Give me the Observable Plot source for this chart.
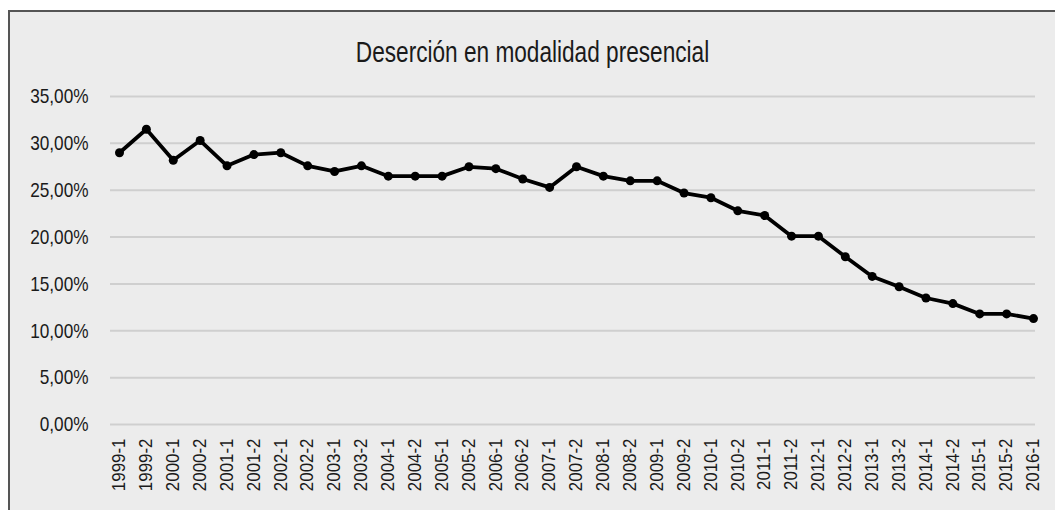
<!DOCTYPE html>
<html>
<head>
<meta charset="utf-8">
<script src="https://cdn.jsdelivr.net/npm/d3@7"></script>
<script src="https://cdn.jsdelivr.net/npm/@observablehq/plot@0.6"></script>
<style>
  html, body { margin: 0; padding: 0; background: #ffffff; overflow: hidden; width: 1055px; height: 510px; }
  #frame {
    position: absolute; left: 8px; top: 10px;
    width: 1100px; height: 560px;
    border-left: 2px solid #555; border-top: 2px solid #555;
    background: #ececec;
  }
  #title {
    width: 1045px; height: 63px; box-sizing: border-box;
    padding-top: 26px; text-align: center;
    font-family: 'Liberation Sans', Arial, sans-serif;
    font-size: 29px; line-height: 29px; color: #1a1a1a;
  }
  #title span { display: inline-block; transform: scaleX(0.78); transform-origin: center; white-space: nowrap; }
</style>
</head>
<body>
<div id="frame">
  <div id="title"><span>Deserción en modalidad presencial</span></div>
  <div id="chart"></div>
</div>
<script>
const periods = ["1999-1","1999-2","2000-1","2000-2","2001-1","2001-2","2002-1","2002-2","2003-1","2003-2","2004-1","2004-2","2005-1","2005-2","2006-1","2006-2","2007-1","2007-2","2008-1","2008-2","2009-1","2009-2","2010-1","2010-2","2011-1","2011-2","2012-1","2012-2","2013-1","2013-2","2014-1","2014-2","2015-1","2015-2","2016-1"];
const rates = [29.0,31.5,28.2,30.3,27.6,28.8,29.0,27.6,27.0,27.6,26.5,26.5,26.5,27.5,27.3,26.2,25.3,27.5,26.5,26.0,26.0,24.7,24.2,22.8,22.3,20.1,20.1,17.9,15.8,14.7,13.5,12.9,11.8,11.8,11.3];
const yTicks = [0,5,10,15,20,25,30,35];

const data = periods.map((p, i) => ({period: p, rate: rates[i]}));
const fmt = d => d.toFixed(2).replace(".", ",") + "%";

const chart = Plot.plot({
  width: 1045,
  height: 435,
  marginTop: 21,
  marginBottom: 86,
  marginLeft: 100,
  marginRight: 20,
  style: {
    fontFamily: "'Liberation Sans', Arial, sans-serif",
    fontSize: "18px",
    color: "#1a1a1a",
    background: "transparent",
    overflow: "visible"
  },
  x: {type: "point", domain: periods, padding: 0, insetLeft: 9, insetRight: 2},
  y: {domain: [0, 35]},
  marks: [
    Plot.gridY(yTicks, {stroke: "#cfcfcf", strokeOpacity: 1, strokeWidth: 2}),
    Plot.axisY(yTicks, {tickSize: 0, tickPadding: 22, tickFormat: fmt, fontSize: 21, label: null}),
    Plot.axisX({tickSize: 0, tickPadding: 14, tickRotate: -90, fontSize: 18, label: null}),
    Plot.line(data, {x: "period", y: "rate", stroke: "#000", strokeWidth: 3.8, strokeLinejoin: "round"}),
    Plot.dot(data, {x: "period", y: "rate", r: 4.5, fill: "#000", stroke: "none"})
  ]
});

// condense the axis labels to mimic the narrow typeface of the original
function condense(selector, s) {
  chart.querySelectorAll(selector).forEach(t => {
    const tr = t.getAttribute("transform");
    if (tr) {
      t.setAttribute("transform", tr + ` scale(${s},1)`);
    } else {
      const x = +(t.getAttribute("x") || 0), y = +(t.getAttribute("y") || 0);
      t.setAttribute("transform", `translate(${x},${y}) scale(${s},1) translate(${-x},${-y})`);
    }
  });
}
condense('[aria-label="y-axis tick label"] text', 0.82);
condense('[aria-label="x-axis tick label"] text', 0.94);

document.getElementById("chart").appendChild(chart);
</script>
</body>
</html>
